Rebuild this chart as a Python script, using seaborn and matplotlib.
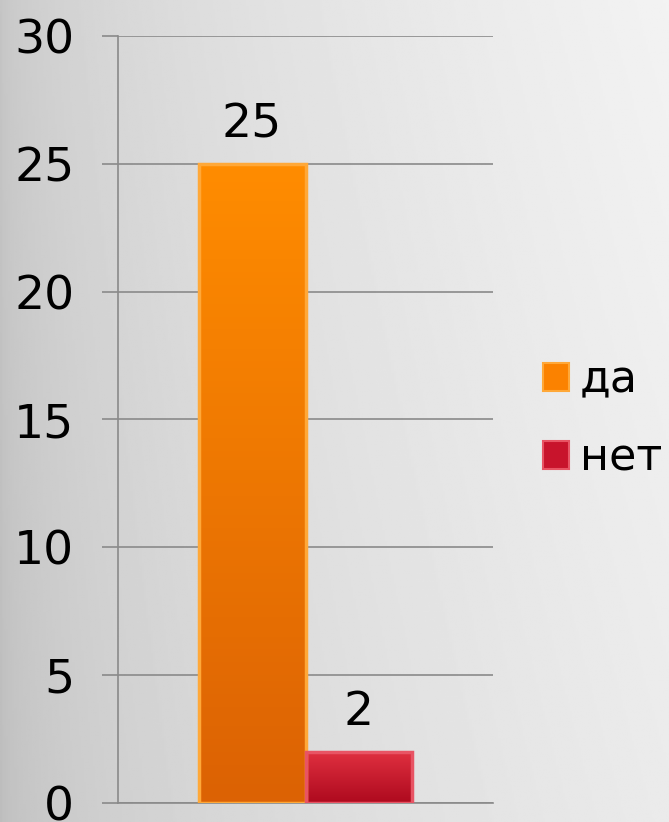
import matplotlib.pyplot as plt
import numpy as np
import pandas as pd
import seaborn as sns
from matplotlib.colors import LinearSegmentedColormap

# data
groups = ["Ряд1"]
answers = ["да", "нет"]
counts = [25, 2]
y_ticks = [0, 5, 10, 15, 20, 25, 30]

df = pd.DataFrame({"group": groups * len(answers), "answer": answers, "count": counts})

bar_colors = {"да": "#FB8200", "нет": "#C8142C"}
bar_grads = {"да": ("#FF8C00", "#DC6204"), "нет": ("#E03040", "#AE0A1E")}
bar_edges = {"да": "#FFA838", "нет": "#E85464"}

sns.set_theme(style="white")
plt.rcParams['font.family'] = ['DejaVu Sans']
plt.rcParams['text.color'] = 'black'

fig = plt.figure(figsize=(6.69, 8.22), dpi=100)

# gray-to-light background
bg = fig.add_axes([0, 0, 1, 1], zorder=-10)
xx, yy = np.meshgrid(np.linspace(0, 1, 300), np.linspace(0, 1, 300))
shade = 0.74 + 0.18 * np.sqrt(xx) + 0.03 * yy
bg.imshow(shade, cmap="gray", vmin=0, vmax=1, aspect="auto", extent=[0, 1, 0, 1], origin="lower")
bg.set_axis_off()

ax = fig.add_axes([118 / 669, 1 - 803 / 822, (493 - 118) / 669, (803 - 36) / 822])
ax.patch.set_alpha(0)

sns.barplot(data=df, x="group", y="count", hue="answer", palette=bar_colors,
            width=0.57, saturation=1, ax=ax, legend=True)

ax.set_yticks(y_ticks)
ax.set_xticks([])
ax.set_xlabel("")
ax.set_ylabel("")
ax.grid(axis="y", color="#8a8a8a", linewidth=1.2)
ax.set_axisbelow(True)
for s in ["top", "right"]:
    ax.spines[s].set_visible(False)
for s in ["left", "bottom"]:
    ax.spines[s].set_color("#8a8a8a")
    ax.spines[s].set_linewidth(1.2)
ax.tick_params(axis="y", left=True, length=11.5, width=1.2, color="#8a8a8a",
               labelsize=34, pad=20, labelcolor="black")

# vertical gradient on each bar, clipped to the bar patch
for container, ans in zip(ax.containers, answers):
    top, bottom = bar_grads[ans]
    cmap = LinearSegmentedColormap.from_list(ans, [bottom, top])
    for bar in container:
        bb = bar.get_bbox()
        im = ax.imshow(np.linspace(0, 1, 100).reshape(-1, 1), cmap=cmap, aspect="auto",
                       extent=[bb.x0, bb.x1, bb.y0, bb.y1], origin="lower", zorder=2)
        im.set_clip_path(bar)
        bar.set_edgecolor(bar_edges[ans])
        bar.set_linewidth(2.5)
        bar.set_zorder(3)
        bar.set_facecolor("none")
    ax.bar_label(container, fontsize=34, padding=12, color="black")

ax.set_xlim(-0.5, 0.5)
ax.set_ylim(0, 30)

handles, labels = ax.get_legend_handles_labels()
for h, ans in zip(handles, answers):
    h.set_facecolor(bar_colors[ans])
    h.set_edgecolor(bar_edges[ans])
    h.set_linewidth(1.5)
ax.legend(handles, labels, loc="center left", bbox_to_anchor=(543 / 669, 0.49),
          bbox_transform=fig.transFigure, frameon=False, fontsize=32, borderpad=0,
          borderaxespad=0, handlelength=0.585, handleheight=0.585,
          handletextpad=0.25, labelspacing=0.8)

fig.savefig("out.png", dpi=100)
